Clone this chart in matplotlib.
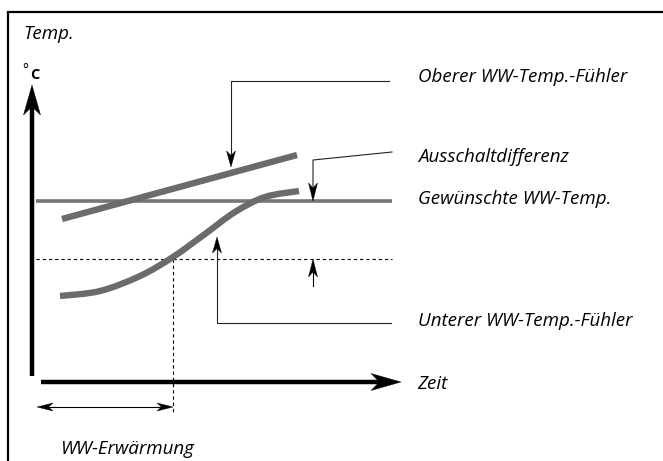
import matplotlib
matplotlib.use("Agg")
import matplotlib.pyplot as plt
from matplotlib.patches import Polygon, PathPatch
from matplotlib.path import Path
import numpy as np

# Canvas in drawing units (1 unit = 1 px, y grows downward)
W, H = 663, 461

# Sensor curves (time, temperature position)
upper_sensor_x = [62, 297]
upper_sensor_y = [219, 155]
lower_sensor_x = [60, 100, 140, 173, 205, 235, 265, 299]
lower_sensor_y = [296, 291, 276, 257, 234, 212, 197, 191]

# Reference levels
setpoint_level = 201
cutin_level = 259
level_x_range = [36, 392]
heating_end_x = 173

labels = ["Oberer WW-Temp.-Fühler", "Ausschaltdifferenz", "Gewünschte WW-Temp.",
          "Unterer WW-Temp.-Fühler"]
label_y = [77, 157, 199, 321]

FONT = ["Open Sans", "DejaVu Sans"]
GREY = "#6b6b6b"

fig = plt.figure(figsize=(W / 100, H / 100), dpi=100)
ax = fig.add_axes([0, 0, 1, 1])
ax.set_xlim(0, W)
ax.set_ylim(H, 0)
ax.axis("off")


def head(tip, direction, length, width, color="black"):
    """Stealth-style arrowhead with its point at tip."""
    d = np.asarray(direction, float)
    d /= np.linalg.norm(d)
    n = np.array([-d[1], d[0]])
    t = np.asarray(tip, float)
    base = t - d * length
    pts = [t, base + n * width / 2, t - d * length * 0.72, base - n * width / 2]
    ax.add_patch(Polygon(pts, closed=True, facecolor=color, edgecolor=color,
                         linewidth=0.3, zorder=6))


def smooth_path(xs, ys):
    """Cubic Bezier path passing through every given point (Catmull-Rom tangents)."""
    p = np.column_stack([xs, ys]).astype(float)
    ext = np.vstack([p[0], p, p[-1]])
    verts = [p[0]]
    codes = [Path.MOVETO]
    for i in range(len(p) - 1):
        p0, p1, p2, p3 = ext[i], ext[i + 1], ext[i + 2], ext[i + 3]
        verts += [p1 + (p2 - p0) / 6, p2 - (p3 - p1) / 6, p2]
        codes += [Path.CURVE4] * 3
    return Path(verts, codes)


# Frame (continues past the right and bottom edges)
ax.plot([8, 8, W + 5], [H + 5, 12, 12], color="black", lw=1.6, solid_joinstyle="miter")

# Axes of the diagram
ax.plot([32, 32], [376, 105], color="black", lw=3.2, solid_capstyle="butt")
head((32, 85), (0, -1), 30, 17)
ax.plot([41, 380], [382, 382], color="black", lw=3.2, solid_capstyle="butt")
head((401, 382), (1, 0), 30, 17)

# Setpoint and switch-on levels
ax.plot(level_x_range, [setpoint_level] * 2, color="#767676", lw=2.6, solid_capstyle="butt")
ax.plot(level_x_range, [cutin_level] * 2, color="black", lw=0.8, dashes=(3, 2.6))
ax.plot([heating_end_x, heating_end_x], [cutin_level, 414], color="black", lw=0.8,
        dashes=(3, 2.6))

# Sensor curves
ax.plot(upper_sensor_x, upper_sensor_y, color=GREY, lw=4.6, solid_capstyle="butt", zorder=4)
ax.add_patch(PathPatch(smooth_path(lower_sensor_x, lower_sensor_y), facecolor="none",
                       edgecolor=GREY, lw=4.6, capstyle="butt", zorder=4))

# Heating duration arrow
ax.plot([44, 165], [407, 407], color="black", lw=0.8)
head((37, 407), (-1, 0), 16, 8)
head((173, 407), (1, 0), 16, 8)

# Leader to the upper sensor
ax.plot([389, 231, 231], [81, 81, 155], color="#222222", lw=0.8)
head((231, 167), (0, 1), 16, 9)

# Switch-off differential leaders
ax.plot([392, 313, 313], [152, 160, 190], color="#222222", lw=0.8)
head((313, 201), (0, 1), 18, 9)
ax.plot([313, 313], [286, 270], color="black", lw=0.8)
head((313, 259), (0, -1), 18, 9)

# Leader to the lower sensor
ax.plot([391, 217, 217], [323, 323, 248], color="#222222", lw=0.8)
head((217, 237), (0, -1), 16, 9)

# Texts
txt = dict(fontsize=13.5, style="italic", family=FONT, color="black", va="center")
ax.text(23, 34, "Temp.", ha="left", **txt)
for s, y in zip(labels, label_y):
    ax.text(418, y, s, ha="left", **txt)
ax.text(417, 384, "Zeit", ha="left", **txt)
ax.text(61, 449, "WW-Erwärmung", ha="left", **txt)
ax.text(22, 71, "°", fontsize=10, family=FONT, ha="left", va="center")
ax.text(30, 75, "C", fontsize=10.5, weight="bold", family=FONT, ha="left", va="center")

fig.savefig("out.png", dpi=100)
